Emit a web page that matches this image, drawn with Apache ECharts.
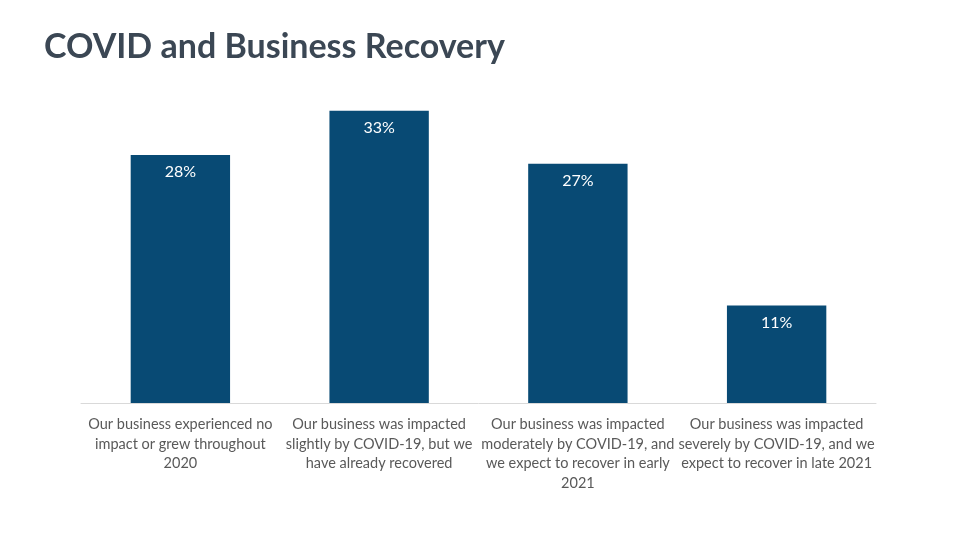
<!DOCTYPE html>
<html><head><meta charset="utf-8">
<script src="https://cdn.jsdelivr.net/npm/echarts@6/dist/echarts.min.js"></script>
<style>html,body{margin:0;padding:0;background:#fff}#c{width:960px;height:540px}</style>
</head><body><div id="c"></div>
<script>
const titleText = 'COVID and Business Recovery';
const categories = [
  'Our business experienced no\nimpact or grew throughout\n2020',
  'Our business was impacted\nslightly by COVID-19, but we\nhave already recovered',
  'Our business was impacted\nmoderately by COVID-19, and\nwe expect to recover in early\n2021',
  'Our business was impacted\nseverely by COVID-19, and we\nexpect to recover in late 2021'
];
const values = [28, 33, 27, 11];

const chart = echarts.init(document.getElementById('c'));
chart.setOption({
  animation: false,
  title: {
    text: titleText, left: 39, top: 25,
    textStyle: { fontFamily: 'Lato', fontWeight: 'bold', fontSize: 34, color: '#3B4754' }
  },
  grid: { left: 81, right: 84, top: 93, bottom: 137, containLabel: false },
  xAxis: {
    type: 'category', data: categories,
    axisLine: { lineStyle: { color: '#D9D9D9', width: 1 } },
    axisTick: { show: false },
    axisLabel: { interval: 0, color: '#595959', fontFamily: 'Lato', fontSize: 14.5, lineHeight: 19.5, margin: 12 }
  },
  yAxis: { type: 'value', min: 0, max: 35, show: false, splitLine: { show: false } },
  series: [{
    type: 'bar', data: values, barWidth: '50%',
    itemStyle: { color: '#084A74' },
    label: { show: true, position: 'insideTop', distance: 9, formatter: '{c}%', color: '#FFFFFF', fontFamily: 'Lato', fontSize: 16 }
  }]
});
</script></body></html>
